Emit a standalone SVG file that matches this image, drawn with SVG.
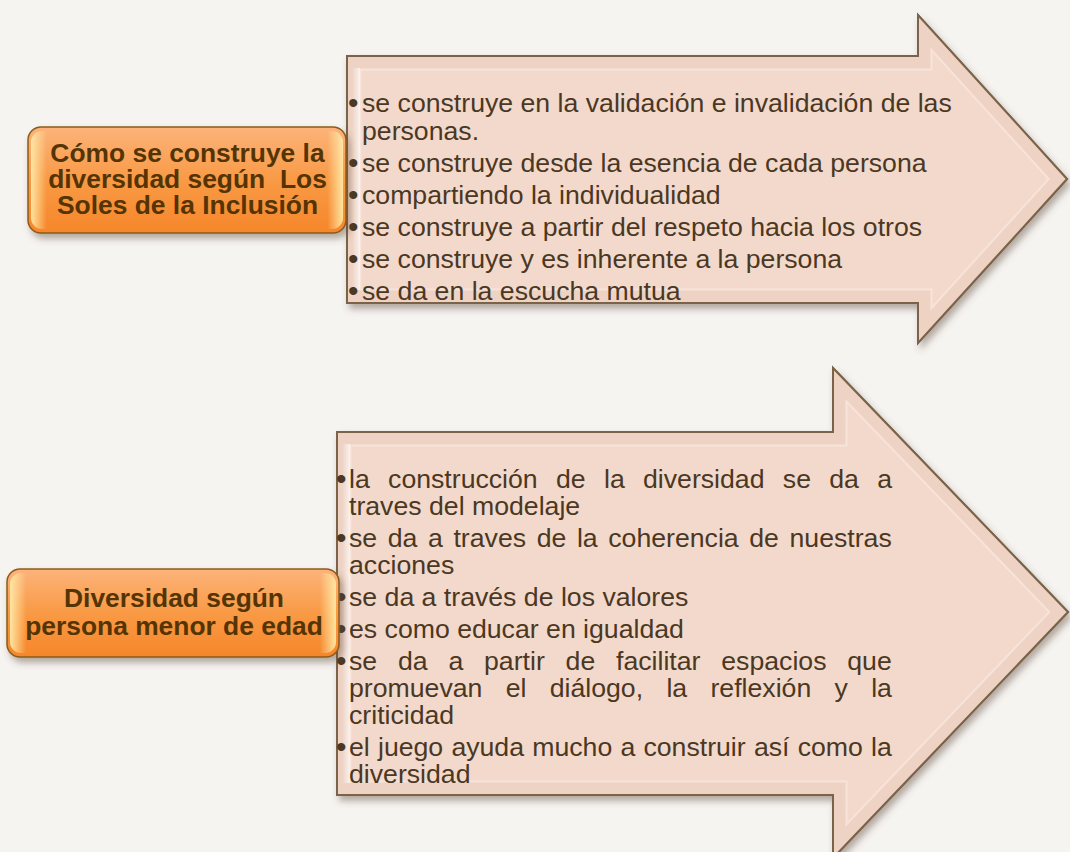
<svg xmlns="http://www.w3.org/2000/svg" width="1070" height="852" viewBox="0 0 1070 852">
<style>
.at{font-family:"Liberation Sans",Arial,sans-serif;font-size:26.67px;fill:#4a3823}
.bl{font-family:"Liberation Sans",Arial,sans-serif;font-size:30px;fill:#4a3823}
.nt{font-family:"Liberation Sans",Arial,sans-serif;font-size:26.4px;font-weight:bold;fill:#553404;text-anchor:middle}
.body{fill:#f3d9cc;stroke:#7a6349;stroke-width:2}
.band1{fill:none;stroke:#f7e3d9;stroke-width:29}
.band2{fill:none;stroke:#eed2c4;stroke-width:25}
.node{fill:url(#og);stroke:#8a5c1c;stroke-width:1.5}
</style>
<defs>
<filter id="sh" x="-10%" y="-10%" width="130%" height="130%">
<feDropShadow dx="3" dy="5" stdDeviation="3.5" flood-color="#5e4a38" flood-opacity="0.45"/>
</filter>
<linearGradient id="og" x1="0" y1="0" x2="0" y2="1">
<stop offset="0" stop-color="#fcb37a"/>
<stop offset="0.5" stop-color="#f99a45"/>
<stop offset="1" stop-color="#f6862a"/>
</linearGradient>
<linearGradient id="oh" x1="0" y1="0" x2="1" y2="0">
<stop offset="0" stop-color="#ffe9a6" stop-opacity="0.95"/>
<stop offset="0.05" stop-color="#ffe9a6" stop-opacity="0"/>
<stop offset="0.95" stop-color="#ffe9a6" stop-opacity="0"/>
<stop offset="1" stop-color="#ffe9a6" stop-opacity="0.95"/>
</linearGradient>
<linearGradient id="lh" x1="0" y1="0" x2="1" y2="0">
<stop offset="0" stop-color="#ffffff" stop-opacity="0"/>
<stop offset="1" stop-color="#ffffff" stop-opacity="0.7"/>
</linearGradient>
<clipPath id="c1"><polygon points="347,56 918,56 918,15 1067,179 918,343 918,303 347,303"/></clipPath>
<clipPath id="c2"><polygon points="337,432 833,432 833,368 1068,612 833,858 833,795 337,795"/></clipPath>
</defs>
<rect x="0" y="0" width="1070" height="852" fill="#f6f4f1"/>

<g id="arrow-top">
<polygon class="body" filter="url(#sh)" points="347,56 918,56 918,15 1067,179 918,343 918,303 347,303"/>
<g clip-path="url(#c1)">
<polygon class="band1" points="347,56 918,56 918,15 1067,179 918,343 918,303 347,303"/>
<polygon class="band2" points="347,56 918,56 918,15 1067,179 918,343 918,303 347,303"/>
<rect x="352" y="68" width="8" height="222" fill="url(#lh)"/>
</g>
<polygon fill="none" stroke="#7a6349" stroke-width="2" points="347,56 918,56 918,15 1067,179 918,343 918,303 347,303"/>
<g class="at">
<text class="bl" x="348" y="113">•</text><text x="362" y="112">se construye en la validación e invalidación de las</text>
<text x="362" y="140">personas.</text>
<text class="bl" x="348" y="173">•</text><text x="362" y="172">se construye desde la esencia de cada persona</text>
<text class="bl" x="348" y="205">•</text><text x="362" y="204">compartiendo la individualidad</text>
<text class="bl" x="348" y="237">•</text><text x="362" y="236">se construye a partir del respeto hacia los otros</text>
<text class="bl" x="348" y="269">•</text><text x="362" y="268">se construye y es inherente a la persona</text>
<text class="bl" x="348" y="301">•</text><text x="362" y="300">se da en la escucha mutua</text>
</g>
</g>

<g id="arrow-bottom">
<polygon class="body" filter="url(#sh)" points="337,432 833,432 833,368 1068,612 833,858 833,795 337,795"/>
<g clip-path="url(#c2)">
<polygon class="band1" points="337,432 833,432 833,368 1068,612 833,858 833,795 337,795"/>
<polygon class="band2" points="337,432 833,432 833,368 1068,612 833,858 833,795 337,795"/>
<rect x="342" y="444" width="8" height="339" fill="url(#lh)"/>
</g>
<polygon fill="none" stroke="#7a6349" stroke-width="2" points="337,432 833,432 833,368 1068,612 833,858 833,795 337,795"/>
<g class="at">
<text class="bl" x="336" y="489">•</text><text x="349" y="488" word-spacing="10.9">la construcción de la diversidad se da a</text>
<text x="349" y="515">traves del modelaje</text>
<text class="bl" x="336" y="548">•</text><text x="349" y="547" word-spacing="3.2">se da a traves de la coherencia de nuestras</text>
<text x="349" y="574">acciones</text>
<text class="bl" x="336" y="607">•</text><text x="349" y="606">se da a través de los valores</text>
<text class="bl" x="336" y="639">•</text><text x="349" y="638">es como educar en igualdad</text>
<text class="bl" x="336" y="671">•</text><text x="349" y="670" word-spacing="13.4">se da a partir de facilitar espacios que</text>
<text x="349" y="697" word-spacing="15.9">promuevan el diálogo, la reflexión y la</text>
<text x="349" y="724">criticidad</text>
<text class="bl" x="336" y="757">•</text><text x="349" y="756" word-spacing="0.8">el juego ayuda mucho a construir así como la</text>
<text x="349" y="783">diversidad</text>
</g>
</g>

<g id="node-soles">
<rect class="node" filter="url(#sh)" x="28" y="127" width="318" height="106" rx="13"/>
<rect x="31" y="131" width="312" height="98" rx="11" fill="url(#oh)"/>
<text class="nt" x="187.5" y="162">Cómo se construye la</text>
<text class="nt" x="187.5" y="188" xml:space="preserve">diversidad según  Los</text>
<text class="nt" x="187.5" y="214">Soles de la Inclusión</text>
</g>

<g id="node-menor">
<rect class="node" filter="url(#sh)" x="7" y="569" width="332" height="88" rx="13"/>
<rect x="10" y="573" width="326" height="80" rx="11" fill="url(#oh)"/>
<text class="nt" x="174" y="607">Diversidad según</text>
<text class="nt" x="174" y="635">persona menor de edad</text>
</g>

<g id="connectors"/>
</svg>
